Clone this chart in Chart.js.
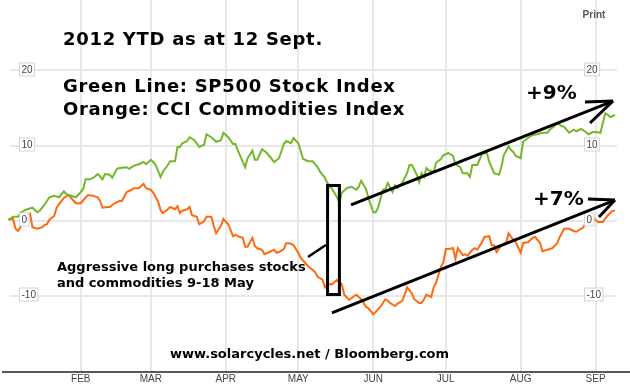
<!DOCTYPE html>
<html>
<head>
<meta charset="utf-8">
<script src="https://cdn.jsdelivr.net/npm/chart.js@4/dist/chart.umd.min.js"></script>
<style>
  html, body { margin: 0; padding: 0; background: #fff; }
  #wrap { width: 630px; height: 387px; }
</style>
</head>
<body>
<div id="wrap"><canvas id="chart" width="630" height="387"></canvas></div>
<script>
// x values are day of year 2012 (0 = 1 Jan), y values are % change YTD
const monthTicks = [31, 60, 91, 121, 152, 182, 213, 244]
const monthLabels = ['FEB', 'MAR', 'APR', 'MAY', 'JUN', 'JUL', 'AUG', 'SEP']
const yTicks = [-10, 0, 10, 20]

// SP500 (green)
const greenDays = [1, 3, 5, 6, 8, 11, 13, 14, 16, 18, 20, 22, 24, 25, 27, 29, 31, 32, 33, 35,
  37, 38, 40, 41, 43, 44, 46, 47, 50, 51, 53, 55, 57, 58, 60, 61, 62, 64, 65, 67,
  68, 70, 71, 72, 73, 75, 76, 78, 79, 80, 82, 83, 85, 87, 89, 90, 92, 94, 95, 96,
  99, 100, 102, 103, 104, 106, 108, 109, 111, 113, 115, 116, 118, 119, 121, 123, 125, 127, 129, 130,
  132, 133, 135, 137, 138, 139, 141, 143, 145, 146, 147, 149, 150, 152, 153, 154, 156, 157, 158, 160,
  161, 162, 164, 166, 167, 168, 170, 171, 172, 173, 174, 175, 177, 178, 180, 181, 183, 185, 186, 188,
  189, 191, 192, 193, 195, 196, 197, 199, 200, 202, 204, 205, 206, 208, 209, 210, 211, 213, 214, 216,
  218, 220, 222, 224, 225, 227, 228, 230, 231, 233, 235, 236, 238, 240, 241, 243, 244, 246, 247, 248,
  249, 250, 251, 252]
const greenValues = [0.1, 0.5, 0.5, 1.0, 1.4, 1.7, 1.1, 1.3, 2.1, 3.1, 3.3, 3.1, 3.9, 3.5, 3.3, 3.1, 3.8, 4.2, 5.5, 5.5,
  5.9, 6.2, 5.5, 6.2, 6.1, 5.7, 6.9, 7.0, 7.1, 6.9, 7.3, 7.5, 7.8, 7.5, 8.1, 7.8, 7.4, 5.8, 6.5, 7.4,
  7.9, 7.9, 9.8, 9.8, 10.3, 10.6, 11.1, 10.7, 10.3, 9.8, 10.1, 11.5, 11.1, 10.5, 10.7, 11.7, 11.1, 10.2, 10.2, 9.3,
  7.1, 8.3, 9.3, 8.1, 8.1, 9.5, 9.0, 8.6, 7.8, 8.3, 10.2, 10.6, 10.3, 11.0, 10.3, 8.2, 7.9, 7.9, 7.1, 6.5,
  5.7, 5.0, 4.2, 3.1, 2.3, 3.7, 4.3, 4.5, 4.1, 4.5, 5.3, 4.2, 3.0, 1.1, 1.1, 1.7, 4.1, 4.2, 5.0, 3.8,
  4.7, 4.3, 5.0, 6.3, 7.4, 7.4, 6.1, 5.1, 6.3, 5.8, 7.0, 6.7, 6.5, 7.7, 8.2, 8.7, 9.0, 8.6, 7.5, 7.1,
  6.3, 6.3, 5.8, 7.4, 7.4, 8.1, 8.9, 9.0, 7.8, 6.3, 6.1, 7.1, 8.7, 9.9, 9.4, 9.1, 8.6, 8.3, 10.5, 11.0,
  11.4, 11.5, 11.7, 11.7, 12.1, 12.6, 13.0, 12.6, 12.5, 11.7, 12.1, 11.9, 12.2, 11.8, 11.5, 11.8, 11.8, 11.7, 13.0, 14.3,
  14.1, 13.8, 13.9, 14.1]

// CCI commodities (orange)
const orangeDays = [1, 3, 4, 5, 6, 8, 10, 11, 13, 15, 16, 17, 18, 20, 21, 22, 24, 26, 27, 29,
  31, 32, 34, 36, 38, 39, 40, 42, 43, 45, 47, 48, 50, 52, 53, 55, 57, 58, 60, 61,
  63, 64, 65, 67, 68, 70, 71, 72, 73, 75, 76, 77, 79, 80, 82, 83, 85, 86, 87, 89,
  90, 92, 94, 95, 96, 98, 99, 100, 102, 103, 104, 106, 107, 109, 111, 112, 113, 115, 116, 118,
  119, 121, 122, 124, 125, 127, 128, 129, 131, 132, 133, 135, 137, 139, 140, 142, 144, 145, 147, 149,
  150, 152, 153, 155, 157, 158, 159, 161, 162, 164, 165, 166, 168, 169, 171, 172, 173, 174, 176, 177,
  178, 180, 181, 182, 183, 185, 186, 187, 189, 190, 191, 193, 194, 195, 197, 198, 200, 201, 202, 203,
  205, 207, 208, 210, 211, 213, 214, 216, 218, 219, 221, 222, 224, 226, 228, 229, 231, 233, 235, 236,
  238, 239, 240, 242, 243, 245, 247, 248, 250, 251, 252]
const orangeValues = [0.1, 0.2, -1.1, -1.4, -0.9, 0.3, 0.9, -0.9, -1.1, -0.9, -0.6, -0.5, 0.1, 0.6, 1.7, 2.2, 3.0, 3.4, 3.0, 2.3,
  2.3, 2.7, 3.4, 3.3, 3.1, 2.6, 1.7, 1.8, 1.8, 2.3, 2.6, 2.6, 3.8, 4.1, 4.3, 4.3, 4.9, 4.3, 4.1, 3.7,
  2.5, 1.4, 1.0, 1.5, 1.8, 1.5, 1.9, 1.0, 1.3, 1.5, 1.8, 0.7, 0.5, -0.5, -0.1, 0.5, 0.5, -0.7, -1.7, -0.7,
  0.2, -0.5, -2.1, -1.9, -2.1, -2.3, -3.5, -3.5, -2.3, -3.4, -3.7, -3.9, -4.5, -4.2, -3.9, -4.3, -4.2, -3.8, -3.0, -3.1,
  -3.3, -4.3, -5.0, -5.7, -6.1, -6.6, -6.9, -7.5, -7.9, -8.9, -8.5, -8.5, -7.9, -8.5, -9.9, -10.6, -10.1, -9.9, -10.5, -11.5,
  -11.7, -12.5, -12.2, -11.5, -10.5, -10.7, -11.0, -11.4, -11.1, -10.7, -9.9, -8.9, -9.7, -10.5, -11.0, -11.0, -10.5, -9.9, -10.2, -8.9,
  -8.3, -6.2, -5.6, -3.8, -3.8, -3.7, -5.1, -3.7, -4.6, -4.5, -4.7, -3.9, -3.7, -3.9, -2.9, -2.2, -2.1, -3.3, -3.3, -4.2,
  -3.3, -3.0, -1.7, -2.6, -2.9, -4.3, -3.0, -2.9, -2.3, -2.2, -3.0, -4.1, -3.9, -3.7, -3.1, -2.3, -1.1, -1.1, -1.4, -1.5,
  -1.1, -0.9, -0.2, 0.1, 0.3, -0.2, -0.2, 0.3, 1.0, 1.3, 1.3]

// hand drawn marks, in (day, %) units
const boxCorners = [[133.1, 4.67], [138.0, -9.87]]
const pointer = [[125.0, -4.87], [132.4, -3.27]]
const arrowUp = [[142.8, 2.07], [251.2, 15.93]]
const arrowDown = [[134.9, -12.33], [252.0, 2.73]]

const toPoints = (xs, ys) => xs.map((x, i) => ({ x: x, y: ys[i] }))

const bold = '"DejaVu Sans", Verdana, sans-serif'
const small = '"Liberation Sans", Arial, sans-serif'

// disegno le scritte, i riquadri dei valori e le frecce sopra il grafico
const overlay = {
  id: 'overlay',
  afterDatasetsDraw(chart) {
    const ctx = chart.ctx
    const xs = chart.scales.x
    const ys = chart.scales.y
    const px = p => [xs.getPixelForValue(p[0]), ys.getPixelForValue(p[1])]
    ctx.save()

    // asse in basso, largo quanto tutta la pagina
    ctx.strokeStyle = '#222'
    ctx.lineWidth = 1.5
    ctx.beginPath()
    ctx.moveTo(2, chart.chartArea.bottom)
    ctx.lineTo(630, chart.chartArea.bottom)
    ctx.stroke()

    // etichette dell'asse y dentro dei riquadri, a sinistra e a destra
    ctx.font = '10px ' + small
    ctx.textBaseline = 'middle'
    yTicks.forEach(v => {
      const y = ys.getPixelForValue(v) - 1
      const label = String(v)
      const w = ctx.measureText(label).width + 4
      ;[19.5, 584.5].forEach(x => {
        ctx.fillStyle = '#fff'
        ctx.fillRect(x, y - 6.5, w, 13)
        ctx.strokeStyle = '#d4d4d4'
        ctx.lineWidth = 1
        ctx.strokeRect(x, y - 6.5, w, 13)
        ctx.fillStyle = '#444'
        ctx.textAlign = 'left'
        ctx.fillText(label, x + 2, y + 0.5)
      })
    })

    ctx.fillStyle = '#555'
    ctx.font = 'bold 10px ' + small
    ctx.textAlign = 'center'
    ctx.fillText('Print', 594, 15)

    // testi
    ctx.fillStyle = '#000'
    ctx.textAlign = 'left'
    ctx.textBaseline = 'alphabetic'
    ctx.letterSpacing = '0.7px'
    ctx.font = 'bold 18px ' + bold
    ctx.fillText('2012 YTD as at 12 Sept.', 63, 45)
    ctx.fillText('Green Line: SP500 Stock Index', 63, 92)
    ctx.fillText('Orange: CCI Commodities Index', 63, 115)
    ctx.letterSpacing = '0px'
    ctx.font = 'bold 20px ' + bold
    ctx.fillText('+9%', 526, 99)
    ctx.fillText('+7%', 533, 205)
    ctx.font = 'bold 13px ' + bold
    ctx.fillText('Aggressive long purchases stocks', 57, 271)
    ctx.fillText('and commodities 9-18 May', 57, 287)
    ctx.fillText('www.solarcycles.net / Bloomberg.com', 170, 358)

    // riquadro e frecce
    ctx.strokeStyle = '#000'
    ctx.lineWidth = 3
    const a = px(boxCorners[0])
    const b = px(boxCorners[1])
    ctx.strokeRect(a[0], a[1], b[0] - a[0], b[1] - a[1])

    const seg = (p, q) => {
      ctx.beginPath()
      ctx.moveTo(p[0], p[1])
      ctx.lineTo(q[0], q[1])
      ctx.stroke()
    }
    ctx.lineWidth = 2.5
    seg(px(pointer[0]), px(pointer[1]))

    ctx.lineWidth = 3
    const arrow = (line, barbs) => {
      const s = px(line[0])
      const t = px(line[1])
      seg(s, t)
      barbs.forEach(d => seg(t, [t[0] + d[0], t[1] + d[1]]))
    }
    arrow(arrowUp, [[-28, 1], [-23, 22]])
    arrow(arrowDown, [[-27, -1], [-16, 17]])

    ctx.restore()
  }
}

const chart = new Chart(document.getElementById('chart'), {
  type: 'line',
  data: {
    datasets: [
      {
        label: 'SP500 Stock Index',
        data: toPoints(greenDays, greenValues),
        borderColor: '#74b82a',
        borderWidth: 2,
        pointRadius: 0,
        tension: 0,
        clip: false
      },
      {
        label: 'CCI Commodities Index',
        data: toPoints(orangeDays, orangeValues),
        borderColor: '#ff6a0e',
        borderWidth: 2,
        pointRadius: 0,
        tension: 0,
        clip: false
      }
    ]
  },
  options: {
    responsive: false,
    animation: false,
    devicePixelRatio: 1,
    layout: { padding: { left: 10, right: 13, top: 0, bottom: 1 } },
    plugins: { legend: { display: false }, tooltip: { enabled: false } },
    scales: {
      x: {
        type: 'linear',
        min: 1.71,
        max: 252.85,
        afterBuildTicks: axis => { axis.ticks = monthTicks.map(v => ({ value: v })) },
        grid: { color: '#e8e8e8', lineWidth: 2, drawTicks: false },
        border: { display: false },
        ticks: {
          padding: 1,
          color: '#444',
          font: { family: small, size: 10 },
          callback: v => monthLabels[monthTicks.indexOf(v)]
        }
      },
      y: {
        min: -20.2,
        max: 29.4,
        afterBuildTicks: axis => { axis.ticks = yTicks.map(v => ({ value: v })) },
        grid: { color: '#e8e8e8', lineWidth: 2, drawTicks: false },
        border: { display: false },
        ticks: { display: false }
      }
    }
  },
  plugins: [overlay]
})
</script>
</body>
</html>
